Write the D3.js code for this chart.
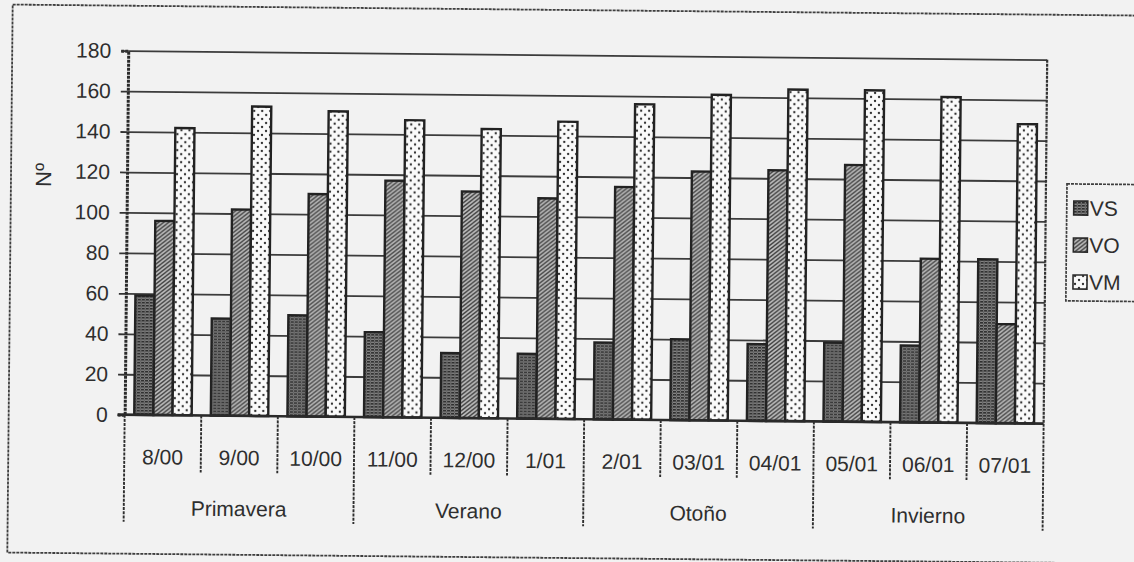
<!DOCTYPE html>
<html>
<head>
<meta charset="utf-8">
<script src="https://cdn.jsdelivr.net/npm/d3@7"></script>
<style>
  html, body { margin: 0; padding: 0; background: #f2f2f2; }
  svg { display: block; }
  text { font-family: "Liberation Sans", Arial, sans-serif; fill: #2e2e2e; }
</style>
</head>
<body>
<svg id="chart" width="1134" height="562"></svg>
<script>
// Monthly counts per category, grouped by season
const months = ["8/00", "9/00", "10/00", "11/00", "12/00", "1/01", "2/01", "03/01", "04/01", "05/01", "06/01", "07/01"];
const seasons = ["Primavera", "Verano", "Otoño", "Invierno"];
const seriesNames = ["VS", "VO", "VM"];
const vsValues = [59, 48, 50, 42, 32, 32, 38, 40, 38, 39, 38, 81];
const voValues = [96, 102, 110, 117, 112, 109, 115, 123, 124, 127, 81, 49];
const vmValues = [142, 153, 151, 147, 143, 147, 156, 161, 164, 164, 161, 148];
const yTicks = [0, 20, 40, 60, 80, 100, 120, 140, 160, 180];
const yLabel = "Nº";

const seriesValues = [vsValues, voValues, vmValues];
const rows = months.map((m, i) => ({ month: m, values: seriesNames.map((s, k) => ({ key: s, value: seriesValues[k][i] })) }));

const svg = d3.select("#chart");
const ink = "#2e2e2e";

// fill patterns for the three series
const defs = svg.append("defs");
const pVS = defs.append("pattern").attr("id", "pat-VS").attr("patternUnits", "userSpaceOnUse").attr("width", 4).attr("height", 3);
pVS.append("rect").attr("width", 4).attr("height", 3).attr("fill", "#858585");
pVS.append("path").attr("d", "M0,0.8H3").attr("stroke", "#262626").attr("stroke-width", 1.5);
pVS.append("rect").attr("x", 3).attr("y", 1.6).attr("width", 1).attr("height", 1).attr("fill", "#444");

const pVO = defs.append("pattern").attr("id", "pat-VO").attr("patternUnits", "userSpaceOnUse").attr("width", 5).attr("height", 4);
pVO.append("rect").attr("width", 5).attr("height", 4).attr("fill", "#bdbdbd");
pVO.append("path").attr("d", "M0,4L5,0M-1,1L1,-1M4,5L6,3").attr("stroke", "#444").attr("stroke-width", 1.4);

const pVM = defs.append("pattern").attr("id", "pat-VM").attr("patternUnits", "userSpaceOnUse").attr("width", 8).attr("height", 8);
pVM.append("rect").attr("width", 8).attr("height", 8).attr("fill", "#fafafa");
pVM.append("circle").attr("cx", 2).attr("cy", 2).attr("r", 1.15).attr("fill", "#2a2a2a");
pVM.append("circle").attr("cx", 6).attr("cy", 6).attr("r", 1.15).attr("fill", "#2a2a2a");

// the printed figure sits slightly askew on the page
const g = svg.append("g").attr("transform", "rotate(0.56, 567, 281)");

// outer frame
g.append("rect")
  .attr("x", 10).attr("y", 10).attr("width", 1200).attr("height", 548)
  .attr("fill", "none").attr("stroke", "#3e3e3e").attr("stroke-width", 1.8)
  .attr("stroke-dasharray", "3,1");

const plot = { left: 126, right: 1045, top: 55, bottom: 419 };

const x = d3.scaleBand().domain(months).range([plot.left, plot.right]).paddingInner(0).paddingOuter(0);
const xs = d3.scaleBand().domain(seriesNames).range([x.bandwidth() * 0.125, x.bandwidth() * 0.875]);
const y = d3.scaleLinear().domain([0, 180]).range([plot.bottom, plot.top]);

// horizontal grid lines
g.append("g")
  .attr("transform", `translate(${plot.left},0)`)
  .call(d3.axisLeft(y).tickValues(yTicks.filter(t => t > 0)).tickSize(-(plot.right - plot.left)).tickFormat(""))
  .call(a => a.select(".domain").remove())
  .call(a => a.selectAll("line").attr("stroke", "#3c3c3c").attr("stroke-width", 1.8));

// right border of plot area
g.append("line")
  .attr("x1", plot.right).attr("x2", plot.right).attr("y1", plot.top).attr("y2", plot.bottom)
  .attr("stroke", "#333").attr("stroke-width", 2.2).attr("stroke-dasharray", "3,1");

// bars
const groups = g.append("g").selectAll("g").data(rows).join("g")
  .attr("transform", d => `translate(${x(d.month)},0)`);
groups.selectAll("rect").data(d => d.values).join("rect")
  .attr("x", d => xs(d.key))
  .attr("y", d => y(d.value))
  .attr("width", xs.bandwidth())
  .attr("height", d => y(0) - y(d.value))
  .attr("fill", d => `url(#pat-${d.key})`)
  .attr("stroke", "#222").attr("stroke-width", 2.4);

// y axis with tick labels
const yAxis = g.append("g")
  .attr("transform", `translate(${plot.left},0)`)
  .call(d3.axisLeft(y).tickValues(yTicks).tickSize(7).tickPadding(10));
yAxis.select(".domain").attr("stroke", "#2a2a2a").attr("stroke-width", 3).attr("stroke-dasharray", "3,1");
yAxis.selectAll("line").attr("stroke", "#333").attr("stroke-width", 1.8);
yAxis.selectAll("text").attr("font-size", 21).attr("fill", ink)
  .style("font-family", "'Liberation Sans', Arial, sans-serif");

// baseline
g.append("line")
  .attr("x1", plot.left - 7).attr("x2", plot.right).attr("y1", y(0)).attr("y2", y(0))
  .attr("stroke", "#2a2a2a").attr("stroke-width", 2.6);

// y axis title
g.append("text")
  .attr("transform", "translate(50,180) rotate(-90)")
  .attr("text-anchor", "middle")
  .attr("font-size", 22).attr("fill", ink)
  .text(yLabel);

// category dividers: short between months, long between seasons
const bounds = d3.range(months.length + 1).map(i => plot.left + i * x.step());
g.append("g").selectAll("line").data(bounds).join("line")
  .attr("x1", d => d).attr("x2", d => d)
  .attr("y1", y(0))
  .attr("y2", (d, i) => i % 3 === 0 ? 526 : 476)
  .attr("stroke", "#2e2e2e").attr("stroke-width", 1.9).attr("stroke-dasharray", "3,1.2");

// month labels
g.append("g").selectAll("text").data(months).join("text")
  .attr("x", d => x(d) + x.bandwidth() / 2)
  .attr("y", 461)
  .attr("dy", "0.35em")
  .attr("text-anchor", "middle")
  .attr("font-size", 21).attr("fill", ink)
  .text(d => d);

// season labels
g.append("g").selectAll("text").data(seasons).join("text")
  .attr("x", (d, i) => (x(months[i * 3]) + x(months[i * 3 + 2]) + x.bandwidth()) / 2)
  .attr("y", 512)
  .attr("dy", "0.35em")
  .attr("text-anchor", "middle")
  .attr("font-size", 21).attr("fill", ink)
  .text(d => d);

// legend
const legend = g.append("g");
legend.append("rect")
  .attr("x", 1066).attr("y", 179).attr("width", 150).attr("height", 117)
  .attr("fill", "none").attr("stroke", "#3e3e3e").attr("stroke-width", 1.7).attr("stroke-dasharray", "3,1");
const ly = d3.scalePoint().domain(seriesNames).range([203, 277]);
const items = legend.selectAll("g.item").data(seriesNames).join("g").attr("class", "item")
  .attr("transform", d => `translate(1073,${ly(d)})`);
items.append("rect")
  .attr("x", 0).attr("y", -7).attr("width", 14).attr("height", 14)
  .attr("fill", d => `url(#pat-${d})`).attr("stroke", "#2a2a2a").attr("stroke-width", 1.6);
items.append("text")
  .attr("x", 16).attr("y", 0).attr("dy", "0.36em")
  .attr("font-size", 21).attr("fill", ink)
  .text(d => d);
</script>
</body>
</html>
